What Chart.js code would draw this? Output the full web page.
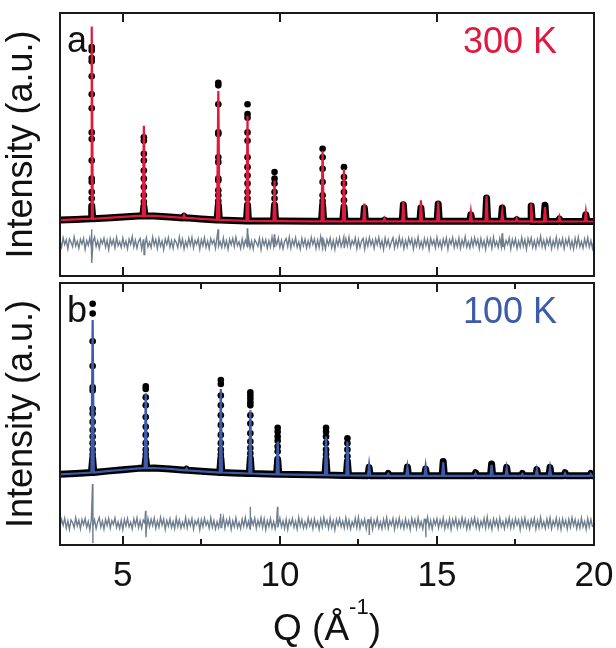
<!DOCTYPE html>
<html>
<head>
<meta charset="utf-8">
<script src="https://cdn.jsdelivr.net/npm/chart.js@4.4.1/dist/chart.umd.min.js"></script>
<style>
  html, body { margin: 0; padding: 0; background: #fff; }
  #wrap { position: relative; width: 616px; height: 648px; }
  #wrap canvas { position: absolute; left: 0; }
  #chartA { top: 0; }
  #chartB { top: 279px; }
</style>
</head>
<body>
<div id="wrap">
  <canvas id="chartA" width="616" height="280"></canvas>
  <canvas id="chartB" width="616" height="369"></canvas>
</div>
<script>
// Q axis
const majorTicks = [5, 10, 15];
const minorTicks = [7.5, 12.5, 17.5];
const tickLabels = [5, 10, 15, 20];

// smooth background under the pattern (both temperatures share the knots)
const bgQ = [3, 3.5, 4, 4.5, 5, 5.5, 6, 6.5, 7, 7.5, 8, 8.5, 9, 10, 11, 12, 14, 16, 18, 20];
const bgA = [0.004, 0.0075, 0.011, 0.015, 0.02, 0.025, 0.025, 0.02, 0.016, 0.01, 0.005, 0.0025, 0, -0.001, -0.002, -0.002, -0.002, -0.002, -0.003, -0.003];
const bgB = [0.0035, 0.008, 0.013, 0.02, 0.027, 0.034, 0.036, 0.031, 0.025, 0.019, 0.014, 0.011, 0.008, 0.004, 0.001, -0.002, -0.004, -0.004, -0.004, -0.004];

// 300 K reflections: position, foot level, fitted height, observed (solid part)
const peakQA = [4.01, 5.67, 6.95, 8.04, 8.97, 9.83, 11.36, 12.04, 12.69, 13.33, 13.93, 14.49, 15.04, 16.08, 16.58, 17.08, 17.54, 18.00, 18.44, 18.90, 19.74];
const baseA  = [0.011, 0.025, 0.015, 0.005, 0, -0.001, -0.002, -0.002, -0.002, -0.002, -0.002, -0.002, -0.002, -0.002, -0.002, -0.002, -0.002, -0.002, -0.003, -0.003, -0.003];
const calcA  = [0.979, 0.479, 0.03, 0.654, 0.529, 0.204, 0.354, 0.262, 0.087, 0.0125, 0.095, 0.104, 0.098, 0.045, 0.128, 0.046, 0.012, 0.088, 0.07, 0.02, 0.045];
const obsA   = [0.075, 0.075, 0.024, 0.08, 0.08, 0.08, 0.08, 0.07, 0.065, 0.004, 0.0815, 0.065, 0.085, 0.0315, 0.115, 0.065, 0.006, 0.075, 0.0785, 0.01, 0.0315];

// 100 K reflections
const peakQB = [4.04, 5.73, 7.03, 8.12, 9.06, 9.93, 11.47, 12.15, 12.84, 13.45, 14.06, 14.64, 15.20, 16.23, 16.74, 17.22, 17.72, 18.18, 18.60, 19.08, 19.90];
const baseB  = [0.013, 0.035, 0.024, 0.013, 0.008, 0.004, 0, -0.002, -0.003, -0.004, -0.004, -0.004, -0.004, -0.004, -0.004, -0.004, -0.004, -0.004, -0.004, -0.004, -0.004];
const calcB  = [0.787, 0.415, 0.032, 0.437, 0.329, 0.17, 0.195, 0.17, 0.05, 0.006, 0.04, 0.044, 0.065, 0.008, 0.052, 0.035, 0.005, 0.027, 0.036, 0.009, 0.005];
const obsB   = [0.085, 0.085, 0.03, 0.085, 0.085, 0.08, 0.08, 0.07, 0.039, 0.008, 0.041, 0.031, 0.069, 0.012, 0.056, 0.039, 0.008, 0.0275, 0.039, 0.012, 0.008];

// individual observed points on the strong reflections
const dotPeakA = [4.01, 5.67, 8.04, 8.97, 9.83, 11.36, 12.04];
const dotValsA = [
  [0.876, 0.859, 0.821, 0.804, 0.729, 0.638, 0.568, 0.446, 0.413, 0.304, 0.213, 0.196, 0.146, 0.113],
  [0.421, 0.404, 0.338, 0.304, 0.254, 0.213, 0.171, 0.129, 0.096],
  [0.696, 0.683, 0.588, 0.446, 0.438, 0.321, 0.296, 0.213, 0.204, 0.154, 0.129, 0.1],
  [0.588, 0.538, 0.52, 0.446, 0.404, 0.321, 0.271, 0.229, 0.188, 0.146, 0.113],
  [0.246, 0.213, 0.188, 0.146, 0.113],
  [0.363, 0.321, 0.263, 0.196, 0.129, 0.1],
  [0.271, 0.221, 0.188, 0.146, 0.104]
];
const dotPeakB = [4.04, 5.73, 8.12, 9.06, 9.93, 11.47, 12.15];
const dotValsB = [
  [0.87, 0.82, 0.679, 0.554, 0.445, 0.429, 0.337, 0.312, 0.27, 0.229, 0.195, 0.162, 0.129, 0.105],
  [0.45, 0.437, 0.395, 0.354, 0.295, 0.245, 0.204, 0.162, 0.129, 0.105],
  [0.482, 0.462, 0.404, 0.354, 0.304, 0.254, 0.204, 0.162, 0.129, 0.105],
  [0.42, 0.404, 0.387, 0.37, 0.354, 0.304, 0.262, 0.212, 0.17, 0.137, 0.11],
  [0.24, 0.22, 0.195, 0.174, 0.145, 0.12],
  [0.24, 0.22, 0.195, 0.162, 0.129, 0.105],
  [0.187, 0.162, 0.129, 0.095]
];

// difference curves (obs - calc), Q = 3.00 ... 20.00 in steps of 0.05
const diffA = [
  .012,-.020,.027,-.008,.016,-.029,.021,.004,-.018,.031,-.014,.009,-.026,.019,-.005,.024,-.031,.013,-.011,.028,
  -.022,.006,.030,-.017,.011,-.027,.018,-.003,.025,-.020,.014,-.032,.022,-.009,.017,-.024,.029,-.013,.007,-.021,
  .026,-.016,.010,-.028,.020,-.006,.033,-.019,.015,-.025,.008,.023,-.030,.016,-.012,.027,-.018,.005,-.023,.030,
  -.010,.019,-.027,.024,-.015,.011,-.033,.021,-.007,.028,-.020,.013,-.026,.017,.004,-.022,.031,-.014,.020,-.029,
  .009,-.018,.025,-.011,.029,-.024,.014,-.006,.022,-.031,.018,-.013,.027,-.021,.010,-.028,.023,-.004,.016,-.025,
  .032,-.015,.008,-.022,.026,-.019,.012,-.030,.019,-.008,.024,-.017,.030,-.012,.006,-.027,.021,-.020,.015,-.009,
  .028,-.023,.011,-.029,.017,.003,-.016,.025,-.032,.020,-.010,.018,-.026,.013,-.019,.031,-.014,.022,-.007,.026,
  -.021,.014,-.028,.009,.023,-.017,.030,-.025,.016,-.011,.027,-.020,.007,-.030,.024,-.013,.019,-.024,.012,-.018,
  .029,-.006,.021,-.027,.015,-.022,.033,-.016,.010,-.029,.018,-.009,.025,-.023,.014,-.031,.020,-.012,.027,-.017,
  .008,-.025,.022,-.014,.030,-.020,.013,-.007,.026,-.028,.017,-.021,.011,.024,-.030,.019,-.015,.028,-.010,.016,
  -.026,.021,-.008,.029,-.019,.012,-.031,.025,-.013,.018,-.022,.006,.027,-.024,.015,-.017,.031,-.011,.020,-.027,
  .014,-.019,.026,-.005,.022,-.029,.017,-.014,.030,-.021,.009,-.025,.023,-.012,.019,-.032,.024,-.008,.015,-.023,
  .028,-.016,.011,-.027,.020,-.010,.025,-.030,.018,-.006,.029,-.022,.013,-.018,.026,-.025,.016,-.013,.032,-.020,
  .007,-.024,.021,-.015,.027,-.009,.018,-.028,.023,-.017,.012,-.031,.025,-.011,.020,-.026,.030,-.014,.009,-.022,
  .024,-.018,.031,-.023,.014,-.007,.026,-.029,.019,-.012,.022,-.027,.010,-.020,.028,-.015,.017,-.030,.023,-.008,
  .027,-.021,.013,-.026,.019,-.011,.034,-.018,.015,-.024,.020,-.009,.025,-.028,.012,-.017,.029,-.022,.016,-.013,
  .022,-.027,.018,-.010,.026,-.023,.011,-.029,.024,-.016,.030,-.019,.008,-.025,.021,-.014,.027,-.020,.013,-.026,
  .018
];
const diffB = [
  -.015,.022,-.009,.027,-.024,.013,-.030,.018,.005,-.021,.029,-.012,.016,-.027,.020,-.006,.025,-.019,.011,-.032,
  .024,-.014,.019,-.026,.008,.030,-.018,.012,-.028,.021,-.010,.026,-.023,.015,-.005,.028,-.020,.009,-.025,.017,
  -.031,.020,-.012,.025,-.017,.006,-.027,.023,-.009,.029,-.021,.014,-.024,.018,.003,-.029,.026,-.016,.021,-.011,
  .027,-.025,.013,-.019,.031,-.008,.022,-.030,.016,-.013,.024,-.020,.010,-.026,.028,-.015,.019,-.023,.007,-.018,
  .030,-.022,.017,-.011,.025,-.028,.014,-.006,.021,-.031,.019,-.016,.027,-.009,.012,-.024,.029,-.019,.015,-.027,
  .009,-.020,.026,-.013,.032,-.023,.018,-.010,.024,-.029,.013,-.017,.028,-.021,.006,-.026,.022,-.014,.030,-.018,
  .011,-.028,.020,-.007,.027,-.024,.016,-.012,.029,-.020,.023,-.031,.014,-.016,.025,-.022,.010,-.027,.019,-.009,
  .028,-.017,.013,-.025,.021,-.030,.017,-.008,.026,-.019,.012,-.028,.031,-.014,.020,-.023,.008,-.021,.027,-.012,
  .018,-.026,.024,-.015,.010,-.029,.022,-.018,.030,-.011,.016,-.024,.027,-.020,.013,-.032,.021,-.009,.025,-.016,
  .012,-.023,.029,-.019,.017,-.027,.009,-.014,.026,-.021,.031,-.025,.015,-.010,.022,-.028,.019,-.013,.024,-.030,
  .016,-.012,.027,-.022,.008,-.026,.021,-.017,.030,-.024,.014,-.009,.025,-.029,.018,-.015,.028,-.020,.011,-.025,
  .023,-.018,.013,-.031,.026,-.011,.019,-.024,.029,-.016,.010,-.027,.022,-.013,.032,-.021,.015,-.028,.020,-.007,
  .025,-.022,.017,-.014,.028,-.026,.012,-.019,.024,-.030,.020,-.010,.027,-.023,.016,-.017,.030,-.012,.021,-.028,
  .014,-.025,.022,-.008,.029,-.020,.018,-.027,.011,-.015,.026,-.022,.033,-.018,.013,-.029,.023,-.011,.019,-.024,
  .027,-.016,.010,-.026,.021,-.013,.030,-.023,.017,-.020,.025,-.009,.018,-.031,.022,-.014,.028,-.019,.012,-.027,
  .020,-.010,.026,-.028,.015,-.021,.031,-.017,.009,-.024,.023,-.015,.029,-.026,.014,-.012,.027,-.022,.018,-.029,
  .024,-.013,.016,-.027,.022,-.019,.030,-.011,.020,-.025,.013,-.023,.028,-.016,.011,-.030,.025,-.018,.021,-.014,
  -.019
];
const diffOffsetA = -0.112;
const diffOffsetB = -0.246;

// misfit spikes at the reflections: position, upper and lower excursion
const spikeQA  = [4.01, 5.67, 8.04, 8.97, 9.83, 11.36, 12.04, 17.08];
const spikeHiA = [0.07, 0.02, 0.07, 0.075, 0.045, 0.03, 0.03, 0.05];
const spikeLoA = [-0.10, -0.058, -0.02, -0.02, -0.02, -0.02, -0.02, -0.02];
const spikeQB  = [4.04, 5.73, 8.12, 9.06, 9.93, 12.84, 14.64];
const spikeHiB = [0.20, 0.065, 0.05, 0.085, 0.085, 0.02, 0.02];
const spikeLoB = [-0.10, -0.07, -0.02, -0.02, -0.02, -0.055, -0.07];

const DIFF_Q0 = 3.0;
const DIFF_STEP = 0.05;
const PEAK_HW = 0.035;

const FONT = '"Liberation Sans", Arial, Helvetica, sans-serif';
const INK = '#111111';
const RED = '#e0193f';
const BLUE = '#3d5ba8';
const GREY = '#6f7e8f';

function profile(bgVals, peakQ, feet, tops) {
  const pts = bgQ.map((q, i) => ({x: q, y: bgVals[i]}));
  peakQ.forEach((q, i) => {
    pts.push({x: q - PEAK_HW, y: feet[i]}, {x: q, y: tops[i]}, {x: q + PEAK_HW, y: feet[i]});
  });
  return pts.sort((a, b) => a.x - b.x);
}

function dots(peaks, vals) {
  const pts = [];
  peaks.forEach((q, i) => vals[i].forEach(v => pts.push({x: q, y: v})));
  return pts;
}

function residual(diff, offset, sq, hi, lo) {
  const pts = diff.map((d, i) => ({x: DIFF_Q0 + i * DIFF_STEP, y: offset + d}));
  sq.forEach((q, i) => {
    pts.push({x: q - 0.006, y: offset + hi[i]}, {x: q + 0.006, y: offset + lo[i]});
  });
  return pts.sort((a, b) => a.x - b.x);
}

// frame, inward ticks, panel letter, temperature and the Q title
const panelDecor = {
  id: 'panelDecor',
  afterDraw(chart, args, opts) {
    const {ctx, chartArea: {left, top, right, bottom}, scales: {x}} = chart;
    ctx.save();
    ctx.strokeStyle = '#1a1a1a';
    ctx.lineWidth = 2;
    ctx.strokeRect(left, top, right - left, bottom - top);
    const mark = (q, len) => {
      const px = Math.round(x.getPixelForValue(q));
      ctx.beginPath();
      ctx.moveTo(px, top); ctx.lineTo(px, top + len);
      ctx.moveTo(px, bottom); ctx.lineTo(px, bottom - len);
      ctx.stroke();
    };
    majorTicks.forEach(q => mark(q, 9));
    if (opts.minor) minorTicks.forEach(q => mark(q, 6));

    ctx.textBaseline = 'alphabetic';
    ctx.font = '36px ' + FONT;
    ctx.fillStyle = INK;
    ctx.textAlign = 'left';
    ctx.fillText(opts.letter, left + 7, top + 39);
    ctx.fillStyle = opts.color;
    ctx.textAlign = 'right';
    ctx.fillText(opts.temp, right - 37, top + 40);

    if (opts.qTitle) {
      const big = '37px ' + FONT, small = '22px ' + FONT;
      const parts = [['Q (Å', big, 0], ['-1', small, -26], [')', big, 0]];
      let w = 0;
      parts.forEach(p => { ctx.font = p[1]; w += ctx.measureText(p[0]).width; });
      let cx = (left + right) / 2 - w / 2;
      const base = bottom + 95;
      ctx.fillStyle = INK;
      ctx.textAlign = 'left';
      parts.forEach(p => {
        ctx.font = p[1];
        ctx.fillText(p[0], cx, base + p[2]);
        cx += ctx.measureText(p[0]).width;
      });
    }
    ctx.restore();
  }
};

function makePanel(id, cfg) {
  const datasets = [
    {
      label: 'calc',
      data: profile(cfg.bg, cfg.peakQ, cfg.feet, cfg.calc),
      showLine: true, borderColor: cfg.color, borderWidth: 2.2,
      pointRadius: 0, order: 0
    },
    {
      label: 'obs points',
      data: dots(cfg.dotPeak, cfg.dotVals),
      showLine: false, pointRadius: 3.3, backgroundColor: '#000',
      borderWidth: 0, order: 1
    },
    {
      label: 'obs',
      data: profile(cfg.bg, cfg.peakQ, cfg.feet, cfg.obs),
      showLine: true, borderColor: '#000', borderWidth: 7,
      borderJoinStyle: 'round', borderCapStyle: 'round',
      pointRadius: 0, order: 2
    },
    {
      label: 'diff',
      data: residual(cfg.diff, cfg.offset, cfg.sq, cfg.hi, cfg.lo),
      showLine: true, borderColor: GREY, borderWidth: 1.4,
      pointRadius: 0, order: 3
    }
  ];

  return new Chart(document.getElementById(id), {
    type: 'scatter',
    data: {datasets},
    plugins: [panelDecor],
    options: {
      responsive: false,
      maintainAspectRatio: false,
      animation: false,
      events: [],
      layout: {padding: cfg.padding},
      plugins: {
        legend: {display: false},
        tooltip: {enabled: false},
        panelDecor: cfg.decor
      },
      scales: {
        x: {
          type: 'linear', min: 3, max: 20,
          display: cfg.showX,
          afterBuildTicks: axis => { axis.ticks = tickLabels.map(v => ({value: v})); },
          afterFit: scale => {
            if (cfg.showX) scale.height = 103;
            // let the "20" label overhang instead of shrinking the plot
            scale.paddingLeft = 0;
            scale.paddingRight = 0;
          },
          grid: {display: false, drawTicks: false},
          border: {display: false},
          ticks: {
            color: INK, padding: 10, maxRotation: 0, autoSkip: false,
            font: {family: FONT, size: 35},
            callback: v => String(v)
          }
        },
        y: {
          min: cfg.yMin, max: cfg.yMax,
          afterFit: scale => { scale.width = 60; },
          grid: {display: false, drawTicks: false},
          border: {display: false},
          ticks: {display: false},
          title: {
            display: true, text: 'Intensity (a.u.)', color: INK,
            font: {family: FONT, size: 36}, padding: {top: 0, bottom: 0}
          }
        }
      }
    }
  });
}

makePanel('chartA', {
  bg: bgA, peakQ: peakQA, feet: baseA, calc: calcA, obs: obsA,
  dotPeak: dotPeakA, dotVals: dotValsA,
  diff: diffA, offset: diffOffsetA, sq: spikeQA, hi: spikeHiA, lo: spikeLoA,
  color: RED, yMin: -0.2775, yMax: 1.0475, showX: false,
  padding: {top: 13, right: 22, bottom: 2, left: 0},
  decor: {letter: 'a', temp: '300 K', color: RED, minor: false, qTitle: false}
});

makePanel('chartB', {
  bg: bgB, peakQ: peakQB, feet: baseB, calc: calcB, obs: obsB,
  dotPeak: dotPeakB, dotVals: dotValsB,
  diff: diffB, offset: diffOffsetB, sq: spikeQB, hi: spikeHiB, lo: spikeLoB,
  color: BLUE, yMin: -0.355, yMax: 0.975, showX: true,
  padding: {top: 0, right: 22, bottom: 0, left: 0},
  decor: {letter: 'b', temp: '100 K', color: BLUE, minor: true, qTitle: true}
});
</script>
</body>
</html>
